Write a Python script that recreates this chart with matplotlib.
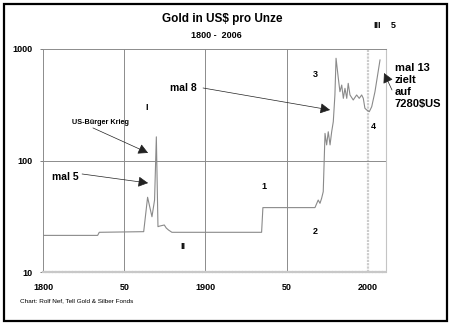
import numpy as np
import matplotlib
matplotlib.use('Agg')
import matplotlib.pyplot as plt
from matplotlib.patches import Rectangle

plt.rcParams['font.family'] = ['Liberation Sans', 'DejaVu Sans']

# gold price, US$ per ounce
years = [1800, 1833.5, 1834.5, 1861.9, 1864.3, 1867.0, 1868.6, 1869.7, 1870.7,
         1871.7, 1874.6, 1875.8, 1877.2, 1879.3, 1934.6, 1935.4, 1967.5, 1969.5,
         1970.6, 1971.6, 1972.6, 1973.7, 1974.7, 1975.7, 1976.8, 1977.8, 1978.8,
         1979.8, 1980.5, 1981.9, 1982.9, 1984.0, 1985.0, 1986.0, 1987.1, 1988.0,
         1989.1, 1991.1, 1993.2, 1994.8, 1996.3, 1997.3, 1998.3, 1999.4, 2001.0,
         2002.5, 2004.5, 2007.6]
prices = [21.3, 21.3, 22.7, 23.0, 46.8, 31.3, 44.2, 163, 25.5,
          25.8, 26.4, 24.8, 23.8, 22.7, 22.7, 37.8, 37.8, 44.2,
          41.3, 45.8, 52.5, 175, 138, 181, 138, 181, 223,
          387, 826, 546, 414, 475, 361, 444, 361, 492,
          387, 349, 387, 361, 387, 361, 294, 284, 274,
          304, 414, 797]

xtick_pos = [1800, 1850, 1900, 1950, 2000]
xtick_lab = ['1800', '50', '1900', '50', '2000']
ytick_pos = [10, 100, 1000]

W, H = 455, 324
fig = plt.figure(figsize=(W / 100, H / 100), dpi=100)
ax = fig.add_axes([43.3 / W, 1 - 272 / H, (386 - 43.3) / W, (272 - 49) / H])

ax.plot(years, prices, color='#8a8a8a', lw=0.8, zorder=3)

ax.set_yscale('log')
ax.set_ylim(10, 1000)
ax.set_xlim(1800, 2011.3)
ax.minorticks_off()
ax.set_yticks(ytick_pos)
ax.set_yticklabels([str(v) for v in ytick_pos])
ax.set_xticks(xtick_pos)
ax.set_xticklabels(xtick_lab)
ax.tick_params(axis='y', length=2.5, width=0.7, color='#808080', pad=5.5,
               labelsize=6.5)
ax.tick_params(axis='x', length=0, pad=8, labelsize=6.5)
for lab in ax.get_xticklabels() + ax.get_yticklabels():
    lab.set_fontweight('bold')

# grid
for yr in [1850, 1900, 1950]:
    ax.axvline(yr, color='#8c8c8c', lw=0.7, zorder=1)
ax.axvline(2000, color='#cccccc', lw=1.6, ls=(0, (1, 0.5)), zorder=1)
ax.axhline(100, color='#8c8c8c', lw=0.7, zorder=1)

ax.spines['top'].set_color('#8c8c8c')
ax.spines['top'].set_linewidth(0.7)
ax.spines['left'].set_color('#8c8c8c')
ax.spines['left'].set_linewidth(0.7)
ax.spines['right'].set_color('#c4c4c4')
ax.spines['right'].set_linewidth(0.8)
ax.spines['bottom'].set_color('#c8c8c8')
ax.spines['bottom'].set_linewidth(1.6)
ax.spines['bottom'].set_linestyle((0, (1, 0.5)))

# titles
fig.text(222 / W, 1 - 19 / H, 'Gold in US$ pro Unze', ha='center', va='center',
         fontsize=8.5, fontweight='bold')
fig.text(216 / W, 1 - 36 / H, '1800 -  2006', ha='center', va='center',
         fontsize=6.5, fontweight='bold')
fig.text(20 / W, 1 - 301 / H, 'Chart: Rolf Nef, Tell Gold & Silber Fonds',
         ha='left', va='center', fontsize=4.6)

# arrows
arrow_kw = dict(arrowstyle='-|>,head_length=0.6,head_width=0.32',
                color='#222222', lw=0.5, shrinkA=0, shrinkB=0)
arrows = [((1898.5, 447), (1976.8, 284)),
          ((1830.6, 196), (1864.6, 117)),
          ((1823.9, 75.7), (1864.6, 62.8)),
          ((2015.0, 429), (2010.1, 609))]
for start, tip in arrows:
    ax.annotate('', xy=tip, xytext=start, arrowprops=arrow_kw,
                annotation_clip=False)

lab_kw = dict(ha='center', va='center', fontweight='bold', clip_on=False)
ax.text(1894.9, 447, 'mal 8', fontsize=7.5, **{**lab_kw, 'ha': 'right'})
ax.text(1805.4, 71.1, 'mal 5', fontsize=7.5, **{**lab_kw, 'ha': 'left'})
ax.text(1835.0, 221, 'US-Bürger Krieg', fontsize=5.2, **lab_kw)
ax.text(2016.8, 466, 'mal 13\nzielt\nauf\n7280$US', fontsize=8,
        linespacing=1.25, **{**lab_kw, 'ha': 'left'})
for txt, x, y in [('3', 1967.6, 585), ('I', 1863.9, 296), ('1', 1936.1, 59),
                  ('2', 1967.6, 23.3), ('II', 1886.1, 17.1), ('4', 2003.3, 200),
                  ('III', 2005.7, 1641), ('5', 2015.6, 1641)]:
    ax.text(x, y, txt, fontsize=6.5, **lab_kw)

# outer frame
fig.patches.append(Rectangle((3.5 / W, 3.5 / H), (447 - 3.5) / W, (320 - 3.5) / H,
                             transform=fig.transFigure, fill=False,
                             edgecolor='black', lw=1.6))

fig.savefig('out.png', dpi=100)
